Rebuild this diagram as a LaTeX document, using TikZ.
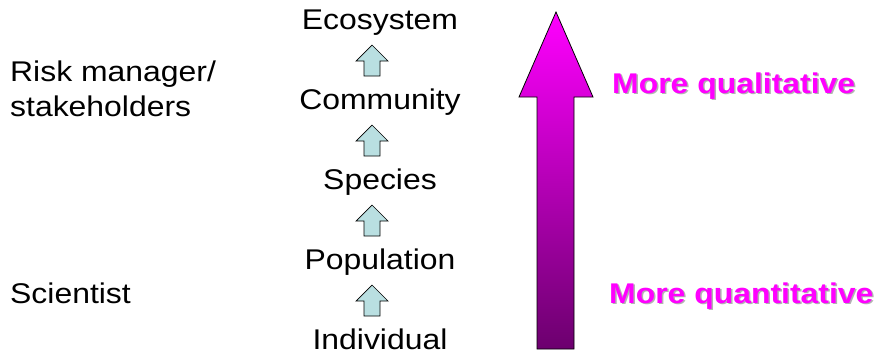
\documentclass[tikz,border=0pt]{standalone}
\usepackage{fontspec}
\setmainfont{Liberation Sans}[FakeStretch=1.12]
\definecolor{paleblue}{HTML}{B9DFE1}
\definecolor{hotpink}{HTML}{FF00FF}
\definecolor{deepplum}{HTML}{6C006E}
\newcommand{\shadowed}[1]{\makebox[0pt][l]{\hspace{1.5pt}\raisebox{-1.5pt}{\textcolor{black!30}{#1}}}\textcolor{hotpink}{#1}}
\tikzset{
  level/.style={anchor=base, inner sep=0pt, font=\fontsize{28.5}{34}\selectfont},
  role/.style={anchor=base west, inner sep=0pt, align=left, font=\fontsize{28.5}{35}\selectfont},
  trend/.style={anchor=base west, inner sep=0pt, font=\fontsize{28.5}{34}\selectfont\bfseries},
  uparrow/.pic={
    \draw[fill=paleblue, line width=0.7pt, line join=miter]
      (0,-16) -- (16,0) -- (8,0) -- (8,15) -- (-8,15) -- (-8,0) -- (-16,0) -- cycle;
  }
}
\begin{document}
\begin{tikzpicture}[x=1pt, y=-1pt]
  \useasboundingbox (0,0) rectangle (878,357);

  % Levels of organisation
  \node[level] (eco) at (380,29) {Ecosystem};
  \node[level] (com) at (380,109) {Community};
  \node[level] (spe) at (380,189) {Species};
  \node[level] (pop) at (380,269) {Population};
  \node[level] (ind) at (380,349) {Individual};

  % Small arrows between levels
  \pic at (372,61) {uparrow};
  \pic at (372,141) {uparrow};
  \pic at (372,221) {uparrow};
  \pic at (372,301) {uparrow};

  % Who cares about which level
  \node[role] (risk) at (10,116) {Risk manager/\\stakeholders};
  \node[role] (sci) at (10,303) {Scientist};

  % Big gradient arrow
  \shade[top color=hotpink, bottom color=deepplum]
    (556,12) -- (593,97) -- (574,97) -- (574,349) -- (537,349) -- (537,97) -- (519,97) -- cycle;
  \draw[line width=0.8pt, line join=miter]
    (556,12) -- (593,97) -- (574,97) -- (574,349) -- (537,349) -- (537,97) -- (519,97) -- cycle;

  % Labels on the scale
  \node[trend] (qual) at (612,93) {\shadowed{More qualitative}};
  \node[trend] (quant) at (609,303) {\shadowed{More quantitative}};
\end{tikzpicture}
\end{document}
